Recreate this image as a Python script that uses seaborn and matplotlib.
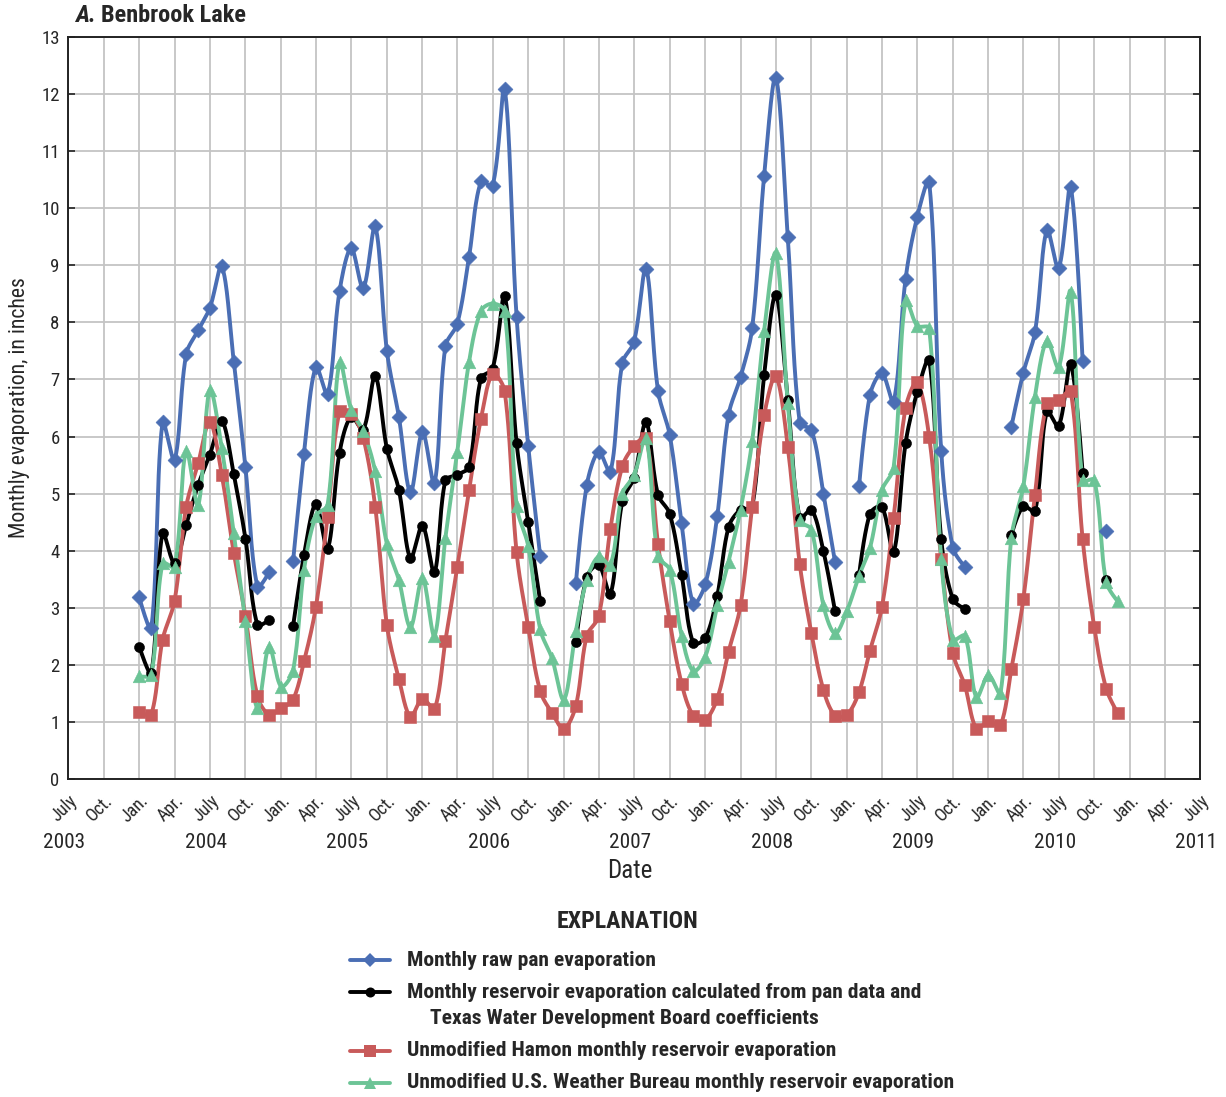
import numpy as np
import pandas as pd
import matplotlib
matplotlib.use("Agg")
import matplotlib.pyplot as plt
import matplotlib.dates as mdates
from matplotlib import font_manager as fm
from matplotlib.lines import Line2D
import seaborn as sns

# ---------------------------------------------------------------------------
# Monthly evaporation at Benbrook Lake, Jan 2004 - Dec 2010 (inches)
# ---------------------------------------------------------------------------
months = pd.date_range("2004-01-01", "2010-12-01", freq="MS")
nan = np.nan

pan_raw = [
    3.18, 2.64, 6.25, 5.59, 7.44, 7.86, 8.25, 8.98, 7.31, 5.46, 3.37, 3.62,   # 2004
    nan, 3.82, 5.69, 7.22, 6.74, 8.55, 9.30, 8.60, 9.68, 7.50, 6.35, 5.02,    # 2005
    6.08, 5.18, 7.58, 7.98, 9.14, 10.47, 10.39, 12.09, 8.09, 5.83, 3.90, nan, # 2006
    nan, 3.43, 5.15, 5.73, 5.38, 7.29, 7.66, 8.94, 6.80, 6.03, 4.48, 3.07,    # 2007
    3.41, 4.61, 6.38, 7.04, 7.90, 10.57, 12.29, 9.49, 6.23, 6.12, 5.00, 3.80, # 2008
    nan, 5.13, 6.73, 7.11, 6.61, 8.76, 9.85, 10.46, 5.75, 4.05, 3.72, nan,    # 2009
    nan, nan, 6.17, 7.12, 7.83, 9.62, 8.95, 10.37, 7.32, nan, 4.35, nan,      # 2010
]

twdb_reservoir = [
    2.32, 1.86, 4.31, 3.78, 4.45, 5.15, 5.68, 6.27, 5.34, 4.21, 2.70, 2.79,   # 2004
    nan, 2.68, 3.92, 4.82, 4.03, 5.72, 6.35, 6.12, 7.06, 5.79, 5.07, 3.87,    # 2005
    4.44, 3.62, 5.23, 5.33, 5.47, 7.02, 7.19, 8.46, 5.88, 4.50, 3.11, nan,    # 2006
    nan, 2.40, 3.54, 3.75, 3.24, 4.87, 5.28, 6.25, 4.98, 4.65, 3.57, 2.38,    # 2007
    2.47, 3.21, 4.41, 4.72, 4.76, 7.08, 8.48, 6.64, 4.57, 4.72, 3.99, 2.94,   # 2008
    nan, 3.57, 4.65, 4.77, 3.97, 5.88, 6.78, 7.34, 4.20, 3.15, 2.98, nan,     # 2009
    nan, nan, 4.27, 4.78, 4.69, 6.44, 6.18, 7.27, 5.36, nan, 3.49, nan,       # 2010
]

hamon = [
    1.18, 1.13, 2.44, 3.12, 4.77, 5.53, 6.26, 5.33, 3.96, 2.85, 1.45, 1.13,   # 2004
    1.24, 1.39, 2.06, 3.02, 4.59, 6.44, 6.40, 5.98, 4.77, 2.70, 1.76, 1.09,   # 2005
    1.41, 1.22, 2.42, 3.72, 5.06, 6.31, 7.10, 6.80, 3.97, 2.66, 1.54, 1.16,   # 2006
    0.88, 1.28, 2.51, 2.85, 4.38, 5.48, 5.83, 5.98, 4.12, 2.77, 1.67, 1.11,   # 2007
    1.04, 1.41, 2.23, 3.04, 4.77, 6.37, 7.06, 5.82, 3.76, 2.55, 1.56, 1.11,   # 2008
    1.13, 1.52, 2.25, 3.01, 4.57, 6.50, 6.95, 5.99, 3.86, 2.21, 1.64, 0.88,   # 2009
    1.01, 0.94, 1.93, 3.15, 4.98, 6.59, 6.64, 6.80, 4.21, 2.66, 1.58, 1.15,   # 2010
]

us_weather_bureau = [
    1.80, 1.83, 3.78, 3.72, 5.75, 4.80, 6.82, 5.80, 4.31, 2.76, 1.24, 2.32,   # 2004
    1.62, 1.90, 3.66, 4.61, 4.80, 7.30, 6.47, 6.10, 5.39, 4.12, 3.49, 2.66,   # 2005
    3.52, 2.51, 4.22, 5.73, 7.30, 8.20, 8.33, 8.20, 4.79, 4.08, 2.62, 2.12,   # 2006
    1.39, 2.59, 3.49, 3.90, 3.75, 5.00, 5.32, 5.98, 3.90, 3.67, 2.51, 1.89,   # 2007
    2.14, 3.04, 3.81, 4.72, 5.92, 7.85, 9.21, 6.59, 4.53, 4.37, 3.04, 2.55,   # 2008
    2.95, 3.56, 4.05, 5.06, 5.45, 8.39, 7.94, 7.90, 3.86, 2.44, 2.51, 1.43,   # 2009
    1.82, 1.50, 4.23, 5.13, 6.70, 7.68, 7.21, 8.54, 5.23, 5.24, 3.45, 3.11,   # 2010
]

series_labels = [
    "Monthly raw pan evaporation",
    "Monthly reservoir evaporation calculated from pan data and\n"
    "Texas Water Development Board coefficients",
    "Unmodified Hamon monthly reservoir evaporation",
    "Unmodified U.S. Weather Bureau monthly reservoir evaporation",
]
series_values = [pan_raw, twdb_reservoir, hamon, us_weather_bureau]
series_colors = ["#4a6eb4", "#000000", "#c85a5a", "#6cc496"]
series_markers = ["D", "o", "s", "^"]
marker_sizes = [58, 52, 66, 82]

quarter_names = {1: "Jan.", 4: "Apr.", 7: "July", 10: "Oct."}
year_labels = list(range(2003, 2012))


# ---------------------------------------------------------------------------
# Font: prefer a narrow sans if one is installed
# ---------------------------------------------------------------------------
def pick_font():
    fonts = fm.fontManager.ttflist
    names = {f.name for f in fonts}
    for cand in ["Liberation Sans Narrow", "Roboto Condensed", "Noto Sans Condensed",
                 "DejaVu Sans Condensed", "Open Sans Condensed", "Noto Sans SemiCondensed"]:
        if cand in names:
            return cand, "normal"
    for fam in ["Noto Sans", "DejaVu Sans", "Roboto", "Open Sans"]:
        for st in ["condensed", "semi-condensed"]:
            if any(f.name == fam and str(f.stretch) == st for f in fonts):
                return fam, st
    return "Roboto", "normal"


sns.set_style("white")
font_name, font_stretch = pick_font()
plt.rcParams["font.family"] = [font_name, "DejaVu Sans"]
plt.rcParams["font.stretch"] = font_stretch

W, H = 1226, 1097
fig = plt.figure(figsize=(W / 100, H / 100), dpi=100)
ax = fig.add_axes([68 / W, 1 - 779 / H, 1132 / W, 742 / H])
renderer = fig.canvas.get_renderer()

PX_MONTH = 1132 / 96.0   # horizontal pixels per month
PX_UNIT = 742 / 13.0     # vertical pixels per inch of evaporation

grid_months = pd.date_range("2003-07-01", "2011-07-01", freq="MS")
grid_num = mdates.date2num(grid_months.to_pydatetime())
offset = (months[0].year - grid_months[0].year) * 12 + months[0].month - grid_months[0].month


def to_datenum(month_pos):
    return np.interp(np.asarray(month_pos) + offset, np.arange(len(grid_num)), grid_num)


def smooth_curve(xs, ys, n=28):
    """Cubic Bezier smoothing through the points, handle lengths weighted by
    the on-screen length of the neighbouring segments."""
    P = np.column_stack([xs, ys]).astype(float)
    if len(P) < 3:
        return P[:, 0], P[:, 1]
    S = P * np.array([PX_MONTH, PX_UNIT])
    m = len(P)
    d = np.hypot(*np.diff(S, axis=0).T)          # segment lengths in px
    out_h = np.zeros_like(S)
    in_h = np.zeros_like(S)
    for i in range(m):
        if 0 < i < m - 1:
            tang = S[i + 1] - S[i - 1]
            tot = d[i - 1] + d[i]
            out_h[i] = tang * d[i] / tot / 3.0
            in_h[i] = tang * d[i - 1] / tot / 3.0
    out = []
    for i in range(m - 1):
        p1, p2 = S[i], S[i + 1]
        c1 = p1 + out_h[i]
        c2 = p2 - in_h[i + 1]
        t = np.linspace(0, 1, n, endpoint=(i == m - 2))[:, None]
        b = (1 - t) ** 3 * p1 + 3 * (1 - t) ** 2 * t * c1 + 3 * (1 - t) * t ** 2 * c2 + t ** 3 * p2
        out.append(b)
    B = np.vstack(out) / np.array([PX_MONTH, PX_UNIT])
    return B[:, 0], B[:, 1]


def segments(values):
    v = np.asarray(values, dtype=float)
    runs, cur = [], []
    for i, val in enumerate(v):
        if not np.isnan(val):
            cur.append(i)
        elif cur:
            runs.append(cur)
            cur = []
    if cur:
        runs.append(cur)
    return [(np.array(r), v[r]) for r in runs]


LW = 2.8
for k, (vals, col, mk, ms) in enumerate(zip(series_values, series_colors, series_markers, marker_sizes)):
    for xi, yi in segments(vals):
        if len(xi) > 1:
            sx, sy = smooth_curve(xi, yi)
            sns.lineplot(x=to_datenum(sx), y=sy, ax=ax, color=col, linewidth=LW,
                         sort=False, estimator=None, errorbar=None, legend=False,
                         zorder=2 + k * 0.1)
    v = np.asarray(vals, dtype=float)
    ok = ~np.isnan(v)
    sns.scatterplot(x=to_datenum(np.arange(len(v))[ok]), y=v[ok], ax=ax, marker=mk, s=ms,
                    color=col, edgecolor=col, linewidth=0.4, legend=False, zorder=3 + k * 0.1)

# Axes limits, ticks and grid
ax.set_xlim(grid_num[0], grid_num[-1])
ax.set_ylim(0, 13)

quarters = pd.date_range("2003-07-01", "2011-07-01", freq="QS-JAN")
ax.set_xticks(mdates.date2num(quarters.to_pydatetime()))
ax.set_xticklabels([quarter_names[d.month] for d in quarters], rotation=45,
                   ha="right", va="top", rotation_mode="anchor", fontsize=13)
januaries = pd.date_range("2004-01-01", "2011-01-01", freq="YS")
ax.set_xticks(mdates.date2num(januaries.to_pydatetime()), minor=True)
ax.tick_params(axis="x", which="major", length=0, pad=9)
ax.tick_params(axis="x", which="minor", length=9, width=1.3, direction="in",
               top=True, bottom=True, color="#222222")

ax.set_yticks(range(0, 14))
ax.tick_params(axis="y", which="major", length=5, width=1.2, direction="in",
               left=True, right=True, labelsize=13.5, color="#222222", pad=6)

ax.grid(True, which="major", color="#c4c4c4", linewidth=1.3)
ax.set_axisbelow(True)
for s in ax.spines.values():
    s.set_visible(True)
    s.set_color("#222222")
    s.set_linewidth(1.4)
ax.set_xlabel("")
ylab = ax.set_ylabel("Monthly evaporation, in inches", fontsize=17, labelpad=8)
h = ylab.get_window_extent(renderer=renderer).height
if h > 262:
    ylab.set_fontsize(17 * 262 / h)


def fit_text(x_px, y_px, s, width_px, size, **kw):
    """Place text in pixel coordinates, sized to the given width (at most `size`)."""
    t = fig.text(x_px / W, 1 - y_px / H, s, fontsize=size, **kw)
    w = t.get_window_extent(renderer=renderer).width
    if w > width_px:
        t.set_fontsize(size * width_px / w)
    return t


# Year labels under the July ticks
for yr in year_labels:
    xd = mdates.date2num(pd.Timestamp(f"{yr}-07-01"))
    xf = ax.transData.transform((xd, 0))[0]
    fit_text(xf - 4, 842, str(yr), 42, 18, ha="center", va="center")

fit_text(630, 871, "Date", 46, 18, ha="center", va="center")

# Panel title
ta = fig.text(75 / W, 1 - 16 / H, "A.", ha="left", va="center", fontsize=20,
              fontweight="bold", style="italic")
tb = fig.text(0, 1 - 16 / H, "Benbrook Lake", ha="left", va="center", fontsize=20,
              fontweight="bold")
wa = ta.get_window_extent(renderer=renderer).width
wb = tb.get_window_extent(renderer=renderer).width
scale = min(1.0, (171 - 5) / (wa + wb))
ta.set_fontsize(20 * scale)
tb.set_fontsize(20 * scale)
wa = ta.get_window_extent(renderer=renderer).width
tb.set_x((75 + wa + 5) / W)

# Explanation block
fit_text(628, 922, "EXPLANATION", 142, 18, ha="center", va="center", fontweight="bold")
rows_y = [960, 992, 1051, 1083]
row_widths = [254, 519, 428, 548]
legend_texts = []
for lab, col, mk, ms, ry, rw in zip(series_labels, series_colors, series_markers,
                                    marker_sizes, rows_y, row_widths):
    yf = 1 - ry / H
    fig.add_artist(Line2D([350 / W, 390 / W], [yf, yf], color=col, linewidth=LW,
                          transform=fig.transFigure))
    fig.add_artist(Line2D([370 / W], [yf], color=col, marker=mk, markersize=np.sqrt(ms),
                          markeredgewidth=0, transform=fig.transFigure, linestyle="none"))
    first = lab.split("\n")[0]
    legend_texts.append(fit_text(407, ry, first, rw, 17, ha="left", va="center",
                                 fontweight="bold"))
legend_texts.append(fit_text(430, 1019, series_labels[1].split("\n")[1], 392, 17,
                             ha="left", va="center", fontweight="bold"))
# one common size for the explanation entries
common = min(t.get_fontsize() for t in legend_texts)
for t in legend_texts:
    t.set_fontsize(common)

fig.savefig("out.png", dpi=100)
